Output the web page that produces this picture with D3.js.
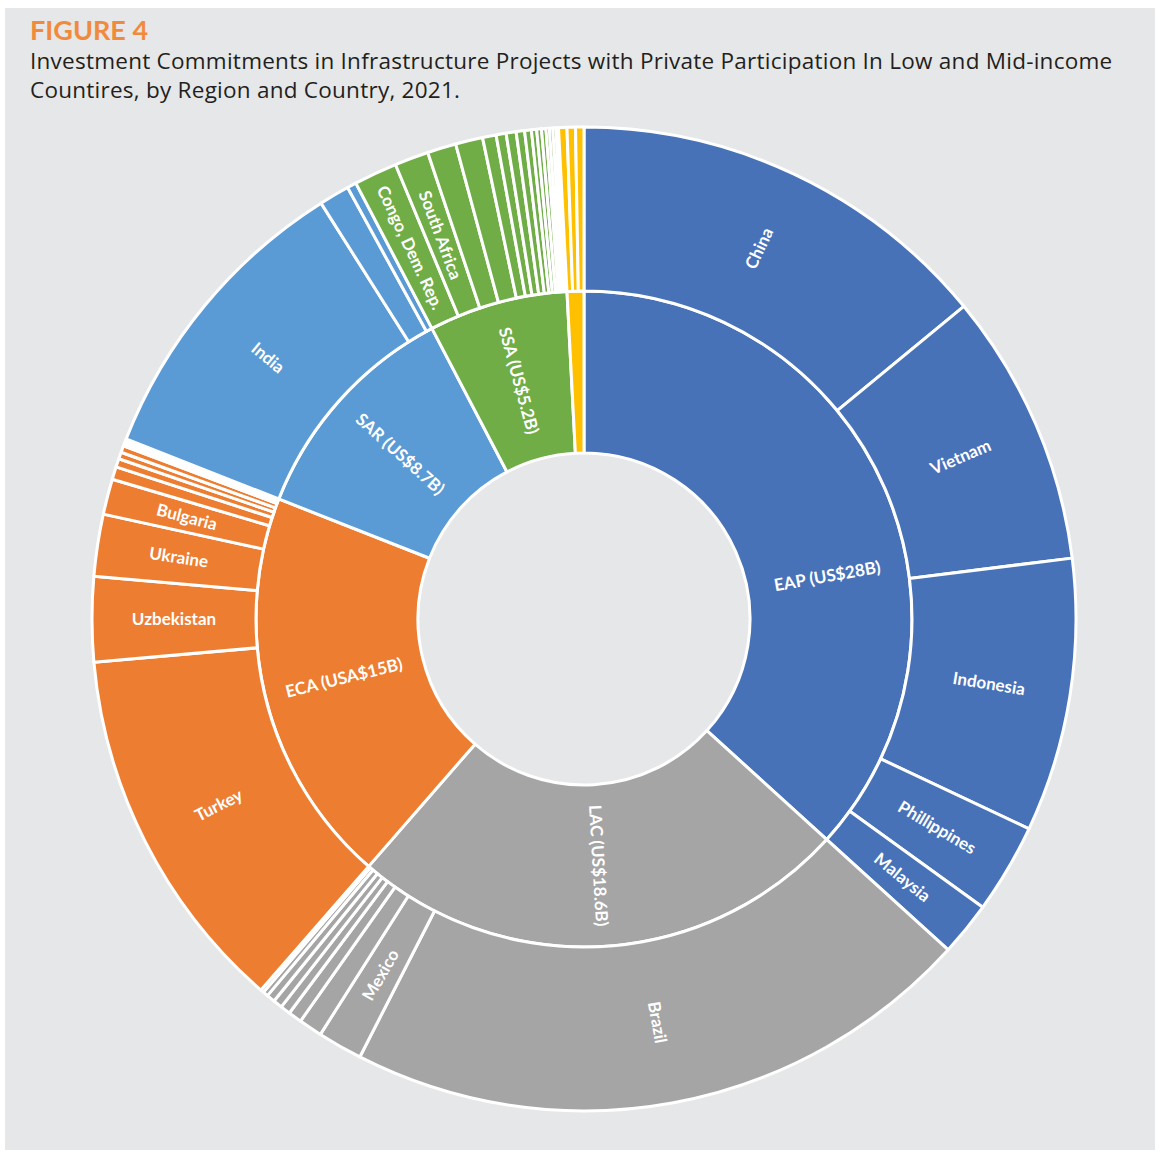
<!DOCTYPE html>
<html>
<head>
<meta charset="utf-8">
<script src="https://cdn.jsdelivr.net/npm/d3@7"></script>
<style>
  body { margin: 0; background: #fff; }
  svg { display: block; }
</style>
</head>
<body>
<svg id="chart" width="1160" height="1152"></svg>
<script>
// regions (inner ring), clockwise from 12 o'clock
const regions = ["EAP", "LAC", "ECA", "SAR", "SSA", "MENA"];
const regionLabels = ["EAP (US$28B)", "LAC (US$18.6B)", "ECA (USA$15B)", "SAR (US$8.7B)", "SSA (US$5.2B)", ""];
const regionColors = ["#4872B8", "#A5A5A5", "#ED7D31", "#5B9BD5", "#70AD47", "#FFC000"];

// countries (outer ring), values in US$ billions, "" = no label
const eapNames = ["China", "Vietnam", "Indonesia", "Phillippines", "Malaysia"];
const eapValues = [10.7, 6.85, 6.85, 2.25, 1.35];

const lacNames = ["Brazil", "Mexico", "", "", "", "", "", "", ""];
const lacValues = [15.85, 1.12, 0.59, 0.34, 0.25, 0.23, 0.21, 0.13, 0.08];

const ecaNames = ["Turkey", "Uzbekistan", "Ukraine", "Bulgaria", "", "", "", "", "", "", "", ""];
const ecaValues = [9.3, 2.12, 1.55, 0.89, 0.32, 0.21, 0.17, 0.17, 0.06, 0.04, 0.04, 0.04];

const sarNames = ["India", "", ""];
const sarValues = [7.67, 0.76, 0.23];

const ssaNames = ["Congo, Dem. Rep.", "South Africa", "", "", "", "", "", "", "", "", "", "", "", "", "", ""];
const ssaValues = [1.08, 0.85, 0.72, 0.68, 0.34, 0.25, 0.25, 0.21, 0.17, 0.13, 0.12, 0.11, 0.085, 0.085, 0.08, 0.06];

const menaNames = ["", "", ""];
const menaValues = [0.21, 0.21, 0.21];

const countryNames = [eapNames, lacNames, ecaNames, sarNames, ssaNames, menaNames];
const countryValues = [eapValues, lacValues, ecaValues, sarValues, ssaValues, menaValues];

const width = 1160, height = 1152;
const cx = 584, cy = 619;

const svg = d3.select("#chart");

// card background
svg.append("rect")
  .attr("x", 5).attr("y", 8)
  .attr("width", 1150).attr("height", 1142)
  .attr("fill", "#E6E7E8");

svg.append("text")
  .attr("x", 30).attr("y", 40)
  .attr("fill", "#F28A3B")
  .attr("font-family", "Lato, sans-serif")
  .attr("font-weight", 700)
  .attr("font-size", 27)
  .text("FIGURE 4");

const subtitle = [
  "Investment Commitments in Infrastructure Projects with Private Participation In Low and Mid-income",
  "Countires, by Region and Country, 2021."
];
svg.append("g").selectAll("text")
  .data(subtitle)
  .enter()
  .append("text")
  .attr("x", 30)
  .attr("y", (d, i) => 69 + i * 29)
  .attr("fill", "#231F20")
  .attr("font-family", "'Open Sans', sans-serif")
  .attr("font-size", 22.5)
  .attr("letter-spacing", 0.25)
  .text(d => d);

// build hierarchy
const tree = {
  name: "root",
  children: regions.map((r, i) => ({
    name: r,
    label: regionLabels[i],
    color: regionColors[i],
    children: countryNames[i].map((n, j) => ({ name: n, label: n, value: countryValues[i][j], color: regionColors[i] }))
  }))
};

const root = d3.hierarchy(tree).sum(d => d.value || 0);
d3.partition().size([2 * Math.PI, 3])(root);

const radius = d3.scaleLinear().domain([1, 2, 3]).range([166, 328, 492]);

const arc = d3.arc()
  .startAngle(d => d.x0)
  .endAngle(d => d.x1)
  .innerRadius(d => radius(d.y0))
  .outerRadius(d => radius(d.y1));

const g = svg.append("g").attr("transform", `translate(${cx},${cy})`);

const nodes = root.descendants().filter(d => d.depth > 0);

g.selectAll("path")
  .data(nodes)
  .enter()
  .append("path")
  .attr("d", arc)
  .attr("fill", d => d.data.color)
  .attr("stroke", "#fff")
  .attr("stroke-width", 3)
  .attr("stroke-linejoin", "round");

// EAP label sits further round than its mid angle in the original
const labelAngleOverride = { EAP: 80 };

g.selectAll("text")
  .data(nodes.filter(d => d.data.label))
  .enter()
  .append("text")
  .attr("transform", d => {
    let a = (d.x0 + d.x1) / 2 * 180 / Math.PI;
    if (d.depth === 1 && labelAngleOverride[d.data.name] != null) a = labelAngleOverride[d.data.name];
    const r = (radius(d.y0) + radius(d.y1)) / 2;
    return `rotate(${a - 90}) translate(${r},0) rotate(${a < 180 ? 0 : 180})`;
  })
  .attr("text-anchor", "middle")
  .attr("dy", "0.35em")
  .attr("fill", "#fff")
  .attr("font-family", "Lato, sans-serif")
  .attr("font-weight", 700)
  .attr("font-size", 17)
  .text(d => d.data.label);
</script>
</body>
</html>
